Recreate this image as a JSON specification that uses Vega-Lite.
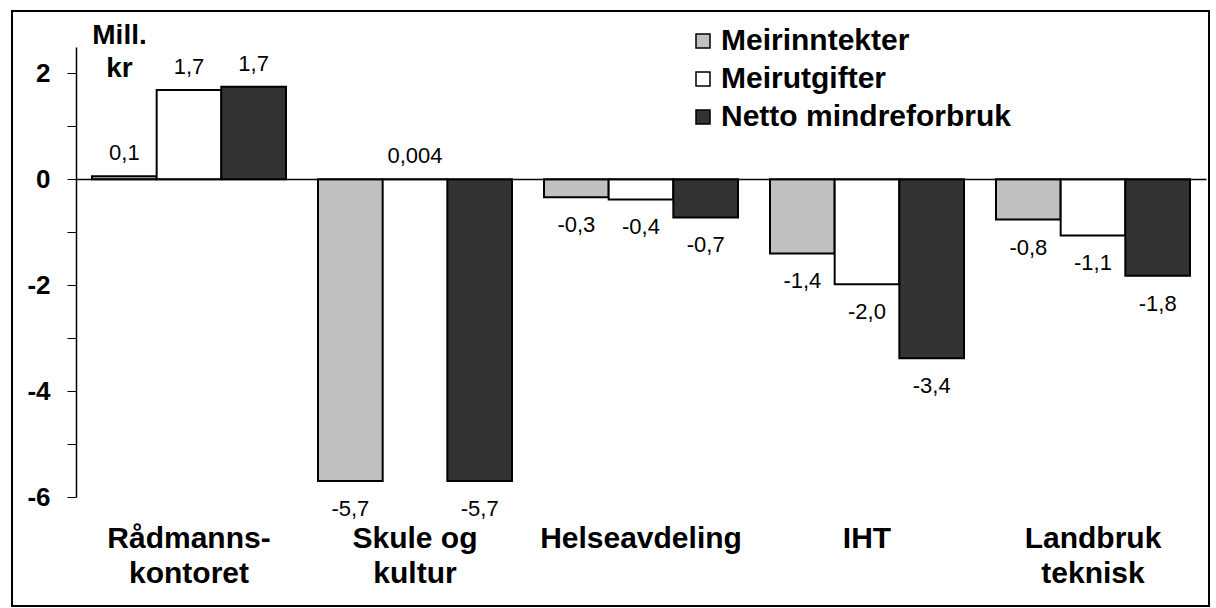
{
  "$schema": "https://vega.github.io/schema/vega-lite/v6.json",
  "autosize": "none",
  "width": 1197,
  "height": 595,
  "padding": {"left": 12, "top": 11, "right": 7, "bottom": 2},
  "background": "white",
  "config": {
    "view": {"stroke": "#000000", "strokeWidth": 2},
    "font": "Liberation Sans"
  },
  "data": {
    "values": [
      {"eining": "Rådmanns-\nkontoret", "serie": "Meirinntekter", "verdi": 0.06, "label": "0,1"},
      {"eining": "Rådmanns-\nkontoret", "serie": "Meirutgifter", "verdi": 1.69, "label": "1,7"},
      {"eining": "Rådmanns-\nkontoret", "serie": "Netto mindreforbruk", "verdi": 1.75, "label": "1,7"},
      {"eining": "Skule og\nkultur", "serie": "Meirinntekter", "verdi": -5.7, "label": "-5,7"},
      {"eining": "Skule og\nkultur", "serie": "Meirutgifter", "verdi": 0.004, "label": "0,004"},
      {"eining": "Skule og\nkultur", "serie": "Netto mindreforbruk", "verdi": -5.7, "label": "-5,7"},
      {"eining": "Helseavdeling", "serie": "Meirinntekter", "verdi": -0.34, "label": "-0,3"},
      {"eining": "Helseavdeling", "serie": "Meirutgifter", "verdi": -0.38, "label": "-0,4"},
      {"eining": "Helseavdeling", "serie": "Netto mindreforbruk", "verdi": -0.72, "label": "-0,7"},
      {"eining": "IHT", "serie": "Meirinntekter", "verdi": -1.4, "label": "-1,4"},
      {"eining": "IHT", "serie": "Meirutgifter", "verdi": -1.98, "label": "-2,0"},
      {"eining": "IHT", "serie": "Netto mindreforbruk", "verdi": -3.38, "label": "-3,4"},
      {"eining": "Landbruk\nteknisk", "serie": "Meirinntekter", "verdi": -0.76, "label": "-0,8"},
      {"eining": "Landbruk\nteknisk", "serie": "Meirutgifter", "verdi": -1.06, "label": "-1,1"},
      {"eining": "Landbruk\nteknisk", "serie": "Netto mindreforbruk", "verdi": -1.82, "label": "-1,8"}
    ]
  },
  "encoding": {
    "x": {
      "field": "eining",
      "type": "nominal",
      "sort": null,
      "scale": {"range": [64, 1194], "paddingInner": 0.1416, "paddingOuter": 0.0708},
      "axis": {
        "title": null,
        "orient": "bottom",
        "offset": -427,
        "domain": true,
        "domainColor": "#000000",
        "domainWidth": 1.5,
        "ticks": false,
        "labelPadding": 368,
        "labelBaseline": "alphabetic",
        "labelAngle": 0,
        "labelFont": "Liberation Sans",
        "labelFontSize": 30,
        "labelFontWeight": "bold",
        "labelColor": "#000000",
        "labelLineHeight": 35,
        "labelLimit": 0,
        "labelExpr": "split(datum.label, '\\n')",
        "zindex": 1
      }
    },
    "xOffset": {
      "field": "serie",
      "type": "nominal",
      "sort": ["Meirinntekter", "Meirutgifter", "Netto mindreforbruk"],
      "scale": {"paddingInner": 0, "paddingOuter": 0}
    },
    "y": {
      "field": "verdi",
      "type": "quantitative",
      "scale": {"domain": [-6, 2.5], "range": [486, 36], "nice": false, "zero": false},
      "axis": {
        "title": ["Mill.", "kr"],
        "titleAngle": 0,
        "titleX": 43,
        "titleY": 32,
        "titleAlign": "center",
        "titleBaseline": "alphabetic",
        "titleFont": "Liberation Sans",
        "titleFontSize": 28,
        "titleFontWeight": "bold",
        "titleColor": "#000000",
        "titleLineHeight": 33,
        "orient": "left",
        "offset": -64,
        "values": [-6, -5, -4, -3, -2, -1, 0, 1, 2],
        "labelExpr": "datum.value % 2 === 0 ? toString(datum.value) : ''",
        "labelFont": "Liberation Sans",
        "labelFontSize": 26,
        "labelFontWeight": "bold",
        "labelColor": "#000000",
        "labelPadding": 17,
        "domainColor": "#000000",
        "domainWidth": 1.5,
        "tickColor": "#000000",
        "tickSize": 9,
        "tickWidth": 1,
        "grid": false,
        "zindex": 1
      }
    }
  },
  "layer": [
    {
      "mark": {"type": "bar", "stroke": "#000000", "strokeWidth": 2},
      "encoding": {
        "fill": {
          "field": "serie",
          "type": "nominal",
          "scale": {
            "domain": ["Meirinntekter", "Meirutgifter", "Netto mindreforbruk"],
            "range": ["#C0C0C0", "#FFFFFF", "#333333"]
          },
          "legend": {
            "title": null,
            "orient": "none",
            "legendX": 676,
            "legendY": 15,
            "padding": 0,
            "symbolType": "square",
            "symbolSize": 196,
            "symbolStrokeColor": "#000000",
            "symbolStrokeWidth": 1.5,
            "symbolOpacity": 1,
            "labelFont": "Liberation Sans",
            "labelFontSize": 30,
            "labelFontWeight": "bold",
            "labelColor": "#000000",
            "labelOffset": 3,
            "labelLimit": 0,
            "rowPadding": 8
          }
        }
      }
    },
    {
      "transform": [{"filter": "datum.verdi >= 0"}],
      "mark": {"type": "text", "baseline": "alphabetic", "dy": -16, "fontSize": 22, "font": "Liberation Sans", "color": "#000000"},
      "encoding": {"text": {"field": "label"}}
    },
    {
      "transform": [{"filter": "datum.verdi < 0"}],
      "mark": {"type": "text", "baseline": "alphabetic", "dy": 35, "fontSize": 22, "font": "Liberation Sans", "color": "#000000"},
      "encoding": {"text": {"field": "label"}}
    }
  ]
}
